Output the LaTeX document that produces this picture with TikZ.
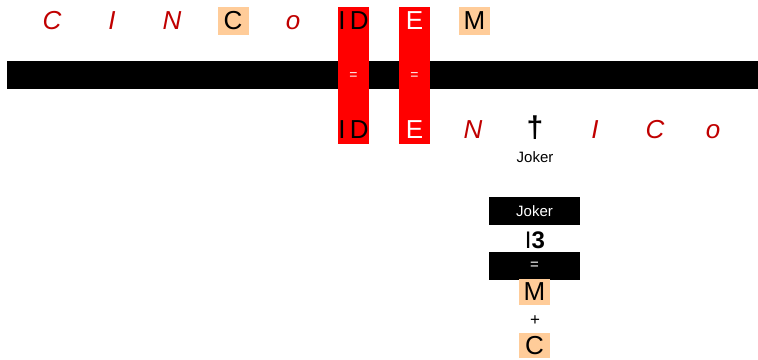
\documentclass[tikz,border=0pt]{standalone}
\usepackage{fontspec}
\setmainfont{Liberation Sans}
\definecolor{txtred}{RGB}{192,0,0}
\definecolor{peach}{RGB}{255,204,153}
\definecolor{colred}{RGB}{255,0,0}
\begin{document}
\begin{tikzpicture}[x=1pt,y=-1pt,
  redl/.style={text=txtred, font=\fontsize{26}{26}\selectfont\itshape, inner sep=0},
  bigl/.style={font=\fontsize{26}{26}\selectfont, inner sep=0},
  smallw/.style={text=white, font=\fontsize{14}{14}\selectfont, inner sep=0},
  smallb/.style={text=black, font=\fontsize{15}{15}\selectfont, inner sep=0},
  peachbox/.style={fill=peach, minimum width=31pt, minimum height=28pt, inner sep=0, font=\fontsize{26}{26}\selectfont},
  colbox/.style={fill=colred, minimum width=31pt, minimum height=137pt, inner sep=0},
  blackbox/.style={fill=black, minimum width=91pt, minimum height=28pt, inner sep=0, text=white, font=\fontsize{15}{15}\selectfont}]
\useasboundingbox (0,0) rectangle (758,359);
% bar
\node[fill=black, minimum width=751pt, minimum height=28pt, inner sep=0] (bar) at (382.5,75) {};
% red columns
\node[colbox] (colID) at (353.5,75.5) {};
\node[colbox] (colE) at (414.5,75.5) {};
% top row
\node[redl] (t1) at (52,21) {C};
\node[redl] (t2) at (112,21) {I};
\node[redl] (t3) at (172,21) {N};
\node[peachbox] (t4) at (233,21) {C};
\node[redl] (t5) at (293,23) {o};
\node[bigl] (t6) at (353.5,21) {I\,D};
\node[bigl, text=white] (t7) at (414.5,21) {E};
\node[peachbox] (t8) at (474.5,21) {M};
% equals in bar
\node[smallw] (eq1) at (353.5,76) {=};
\node[smallw] (eq2) at (414.5,76) {=};
% bottom row
\node[bigl] (b1) at (353.5,130) {I\,D};
\node[bigl, text=white] (b2) at (414.5,130) {E};
\node[redl] (b3) at (473,130) {N};
\node[font=\fontsize{30}{30}\selectfont\bfseries, inner sep=0] (b4) at (535,128) {†};
\node[redl] (b5) at (595,130) {I};
\node[redl] (b6) at (655,130) {C};
\node[redl] (b7) at (713,132) {o};
\node[smallb] (jk) at (535,157) {Joker};
% stack
\node[blackbox] (s1) at (534.5,211) {Joker};
\node[font=\fontsize{24}{24}\selectfont, inner sep=0] (s2) at (535,240) {I\textbf{3}};
\node[blackbox] (s3) at (534.5,266) {=};
\node[peachbox, minimum height=26pt] (s4) at (534.5,292) {M};
\node[smallb, font=\fontsize{17}{17}\selectfont] (s5) at (535,321) {+};
\node[peachbox, minimum height=25pt] (s6) at (534.5,345.5) {C};
\end{tikzpicture}
\end{document}
